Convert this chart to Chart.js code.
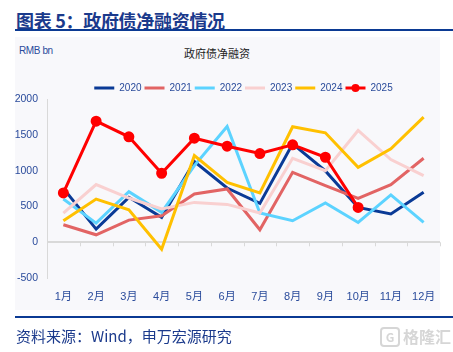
<!DOCTYPE html>
<html>
<head>
<meta charset="utf-8">
<script src="https://cdn.jsdelivr.net/npm/chart.js@4.4.1/dist/chart.umd.min.js"></script>
<style>
    body { margin: 0; width: 453px; height: 352px; overflow: hidden; background: #fff; position: relative; font-family: 'Liberation Sans', 'Noto Sans CJK SC', sans-serif; }
    .head { position: absolute; left: 16px; top: 7px; font-size: 18px; font-weight: bold; color: #1b3a8c; font-family: 'Noto Sans CJK SC', sans-serif; letter-spacing: -0.3px; }
    .rule { position: absolute; left: 15px; right: 0; height: 2px; background: #0b3a93; }
    .panel { position: absolute; left: 15px; top: 37px; width: 425px; height: 273px; background: #f8f8fb; }
    .unit { position: absolute; left: 19px; top: 45px; font-size: 10px; color: #2a4b9b; font-family: 'Liberation Sans', sans-serif; letter-spacing: -0.4px; }
    .ctitle { position: absolute; left: 184px; top: 45px; font-size: 11px; color: #222; font-family: 'Noto Sans CJK SC', sans-serif; }
    .src { position: absolute; left: 16px; top: 325px; font-size: 15px; color: #1b3a8c; font-family: 'Noto Sans CJK SC', sans-serif; }
    .mark { position: absolute; left: 380px; top: 324px; font-size: 16px; font-weight: bold; color: #d6d6d6; font-family: 'Noto Sans CJK SC', sans-serif; }
    .mark span { display: inline-block; width: 16px; height: 16px; border: 2px solid #d6d6d6; border-radius: 4px; text-align: center; line-height: 16px; font-size: 12px; margin-right: 3px; vertical-align: 1px; }
    #box { position: absolute; left: 0; top: 70px; width: 453px; height: 250px; }
</style>
</head>
<body>
<div class="head">图表 5：政府债净融资情况</div>
<div class="rule" style="top:29px"></div>
<div class="panel"></div>
<div class="unit">RMB bn</div>
<div class="ctitle">政府债净融资</div>
<div id="box"><canvas id="chart"></canvas></div>
<div class="rule" style="top:316px"></div>
<div class="src">资料来源：Wind，申万宏源研究</div>
<div class="mark"><span>G</span>格隆汇</div>

<script>
// data
var months = ['1月', '2月', '3月', '4月', '5月', '6月', '7月', '8月', '9月', '10月', '11月', '12月'];
var y2020 = [756, 185, 630, 349, 1131, 760, 545, 1379, 1000, 489, 396, 700];
var y2021 = [246, 105, 311, 372, 677, 747, 176, 980, 794, 616, 808, 1177];
var y2022 = [606, 269, 709, 419, 1074, 1622, 410, 302, 550, 278, 663, 278];
var y2023 = [410, 808, 620, 466, 559, 531, 410, 1177, 1004, 1566, 1159, 934];
var y2024 = [302, 606, 456, -96, 1215, 840, 691, 1618, 1534, 1051, 1309, 1753];
var y2025 = [691, 1697, 1477, 967, 1458, 1346, 1243, 1365, 1191, 489];
var yTicks = [-500, 0, 500, 1000, 1500, 2000];

var tickColor = '#2a4b9b';
var axisGray = '#d9d9d9';
var legendHeight = 19.5;

function series(label, data, color, order) {
    return {
        label: label,
        data: data,
        borderColor: color,
        backgroundColor: color,
        borderWidth: 3,
        pointRadius: 0,
        pointHoverRadius: 0,
        lineTension: 0,
        fill: false,
        order: order
    };
}

var ds2025 = series('2025', y2025, '#ff0000', 0);
ds2025.pointRadius = 4;
ds2025.pointStyle = 'circle';

// fixed legend height, tick marks under the zero line, dot in the 2025 legend item
var extras = {
    id: 'extras',
    beforeLayout: function (chart) {
        var lg = chart.legend;
        if (lg && !lg._fixed) {
            var fit = lg.fit;
            lg.fit = function () { fit.call(this); this.height = legendHeight; };
            lg._fixed = true;
        }
    },
    beforeDatasetsDraw: function (chart) {
        var ctx = chart.ctx, x = chart.scales.x, y = chart.scales.y;
        var y0 = y.getPixelForValue(0);
        var step = x.getPixelForValue(1) - x.getPixelForValue(0);
        ctx.save();
        ctx.strokeStyle = axisGray;
        ctx.lineWidth = 1;
        for (var i = 0; i <= months.length; i++) {
            var px = Math.round(x.getPixelForValue(i) - step / 2) + 0.5;
            ctx.beginPath();
            ctx.moveTo(px, y0);
            ctx.lineTo(px, y0 + 4);
            ctx.stroke();
        }
        ctx.restore();
    },
    afterDraw: function (chart) {
        var box = chart.legend.legendHitBoxes[5];
        if (!box) return;
        var ctx = chart.ctx;
        ctx.save();
        ctx.fillStyle = '#ff0000';
        ctx.beginPath();
        ctx.arc(box.left + 10, box.top + 5, 4, 0, Math.PI * 2);
        ctx.fill();
        ctx.restore();
    }
};

var chart = new Chart(document.getElementById('chart'), {
    type: 'line',
    data: {
        labels: months,
        datasets: [
            series('2020', y2020, '#0a3a96', 6),
            series('2021', y2021, '#e26464', 5),
            series('2022', y2022, '#5cd3ff', 4),
            series('2023', y2023, '#f9d0d0', 3),
            series('2024', y2024, '#ffc000', 2),
            ds2025
        ]
    },
    options: {
        responsive: true,
        maintainAspectRatio: false,
        animation: false,
        layout: { padding: { left: 0, right: 13, top: 10, bottom: 1 } },
        scales: {
            x: {
                offset: true,
                afterFit: function (axis) { axis.height = 41; },
                grid: { display: false, drawTicks: false },
                border: { display: false },
                ticks: { color: tickColor, font: { family: "'Liberation Sans', 'Noto Sans CJK SC'", size: 11 }, padding: 12, maxRotation: 0 }
            },
            y: {
                min: -500,
                max: 2000,
                afterBuildTicks: function (axis) {
                    axis.ticks = yTicks.map(function (v) { return { value: v }; });
                },
                afterFit: function (axis) { axis.width = 47; },
                grid: {
                    drawTicks: false,
                    lineWidth: 2,
                    color: function (c) { return c.tick && c.tick.value === 0 ? axisGray : 'rgba(0,0,0,0)'; }
                },
                border: { display: true, color: axisGray, width: 1 },
                ticks: {
                    color: tickColor,
                    font: { family: "'Liberation Sans'", size: 10.5 },
                    padding: 9,
                    callback: function (v) { return String(v); }
                }
            }
        },
        plugins: {
            legend: {
                display: true,
                position: 'top',
                fullSize: false,
                labels: {
                    usePointStyle: true,
                    pointStyle: 'line',
                    pointStyleWidth: 20,
                    color: tickColor,
                    font: { family: "'Liberation Sans'", size: 10 },
                    padding: 3,
                    sort: function (a, b) { return a.datasetIndex - b.datasetIndex; }
                }
            },
            tooltip: { enabled: false }
        }
    },
    plugins: [extras]
});
</script>
</body>
</html>
